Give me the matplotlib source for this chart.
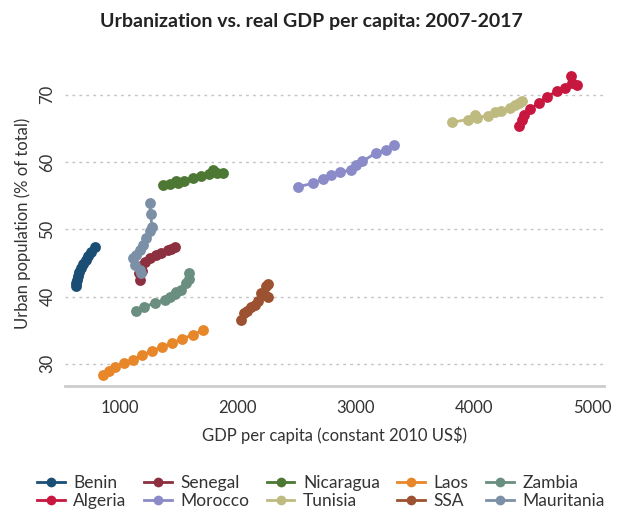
import matplotlib.pyplot as plt

plt.rcParams['font.family'] = ['Lato', 'DejaVu Sans']

# GDP per capita (constant 2010 US$) and urban population (% of total)
benin_x = [635, 633, 640, 648, 655, 672, 695, 715, 738, 760, 792]
benin_y = [41.5, 42.0, 42.5, 43.0, 43.6, 44.2, 44.8, 45.4, 46.0, 46.6, 47.3]

algeria_x = [4378, 4407, 4420, 4477, 4547, 4618, 4702, 4772, 4829, 4871, 4820]
algeria_y = [65.3, 66.2, 67.0, 67.8, 68.8, 69.7, 70.5, 71.0, 71.8, 71.5, 72.7]

senegal_x = [1171, 1163, 1186, 1214, 1256, 1190, 1312, 1354, 1411, 1440, 1467]
senegal_y = [42.5, 43.5, 44.5, 45.2, 45.7, 43.8, 46.2, 46.4, 46.9, 47.0, 47.3]

morocco_x = [2508, 2635, 2719, 2789, 2870, 2960, 3000, 3057, 3169, 3253, 3323]
morocco_y = [56.3, 56.8, 57.4, 58.0, 58.5, 58.8, 59.5, 60.1, 61.3, 61.8, 62.5]

nicaragua_x = [1369, 1425, 1481, 1500, 1551, 1622, 1692, 1762, 1791, 1830, 1875]
nicaragua_y = [56.6, 56.7, 57.1, 56.8, 57.2, 57.6, 57.9, 58.2, 58.8, 58.4, 58.3]

tunisia_x = [3816, 3948, 4013, 4030, 4117, 4181, 4230, 4308, 4350, 4380, 4407]
tunisia_y = [65.9, 66.3, 67.0, 66.6, 66.9, 67.4, 67.6, 68.0, 68.4, 68.7, 69.0]

laos_x = [860, 912, 966, 1040, 1118, 1192, 1276, 1360, 1447, 1532, 1622, 1706]
laos_y = [28.3, 28.9, 29.5, 30.1, 30.6, 31.3, 31.9, 32.5, 33.1, 33.7, 34.3, 35.0]

ssa_x = [2030, 2058, 2080, 2114, 2150, 2171, 2198, 2230, 2255, 2241, 2262]
ssa_y = [36.5, 37.5, 37.8, 38.5, 38.8, 39.3, 40.5, 40.2, 40.0, 41.5, 41.8]

zambia_x = [1143, 1209, 1298, 1382, 1430, 1467, 1523, 1480, 1565, 1590, 1588]
zambia_y = [37.9, 38.5, 39.0, 39.5, 40.0, 40.3, 41.0, 40.6, 42.0, 42.6, 43.5]

mauritania_x = [1186, 1171, 1129, 1115, 1143, 1171, 1200, 1228, 1256, 1276, 1264, 1256]
mauritania_y = [43.5, 44.0, 44.7, 45.7, 46.2, 46.9, 47.7, 48.7, 49.7, 50.4, 52.2, 53.9]

series = [
    ('Benin', benin_x, benin_y, '#1b4e75'),
    ('Algeria', algeria_x, algeria_y, '#c8173f'),
    ('Senegal', senegal_x, senegal_y, '#8c2f3e'),
    ('Morocco', morocco_x, morocco_y, '#8a8bc8'),
    ('Nicaragua', nicaragua_x, nicaragua_y, '#4c7834'),
    ('Tunisia', tunisia_x, tunisia_y, '#bfbb80'),
    ('Laos', laos_x, laos_y, '#e8862a'),
    ('SSA', ssa_x, ssa_y, '#9c5230'),
    ('Zambia', zambia_x, zambia_y, '#6a8e7f'),
    ('Mauritania', mauritania_x, mauritania_y, '#7b90a7'),
]

fig = plt.figure(figsize=(6.23, 5.11), dpi=100)
ax = fig.add_axes([65 / 623, 1 - 386 / 511, (604 - 65) / 623, (386 - 61) / 511])

for name, xs, ys, col in series:
    ax.plot(xs, ys, color=col, lw=2, marker='o', markersize=7.8,
            markeredgewidth=0, label=name)

ax.set_xlim(540, 5101)
ax.set_ylim(26.7, 75)
ax.set_xticks([1000, 2000, 3000, 4000, 5000])
ax.set_yticks([30, 40, 50, 60, 70])

# dotted horizontal gridlines only
ax.yaxis.grid(True, color='#c4c4c4', linestyle=(0, (2, 3)), linewidth=1)
ax.set_axisbelow(True)

for s in ['top', 'right', 'left']:
    ax.spines[s].set_visible(False)
ax.spines['bottom'].set_color('#cccccc')
ax.spines['bottom'].set_linewidth(2)

ax.tick_params(length=0, labelsize=12, labelcolor='#333333')
ax.tick_params(axis='x', pad=10)
ax.tick_params(axis='y', pad=7)
for lab in ax.get_yticklabels():
    lab.set_rotation(90)
    lab.set_va('center')

ax.set_xlabel('GDP per capita (constant 2010 US$)', fontsize=12, color='#333333', labelpad=8)
ax.set_ylabel('Urban population (% of total)', fontsize=12, color='#333333', labelpad=6)

fig.text(0.5, 1 - 22 / 511, 'Urbanization vs. real GDP per capita: 2007-2017',
         ha='center', va='center', fontsize=14, fontweight='bold', color='#222222')

leg = fig.legend(loc='center', bbox_to_anchor=(0.515, 1 - 492 / 511), ncol=5,
                 frameon=False, fontsize=12.5, handlelength=1.6, handletextpad=0.5,
                 columnspacing=1.0, labelspacing=0.15, borderaxespad=0)
for t in leg.get_texts():
    t.set_color('#333333')
for h in leg.legend_handles:
    h.set_markersize(7)

fig.savefig('out.png', dpi=100)
